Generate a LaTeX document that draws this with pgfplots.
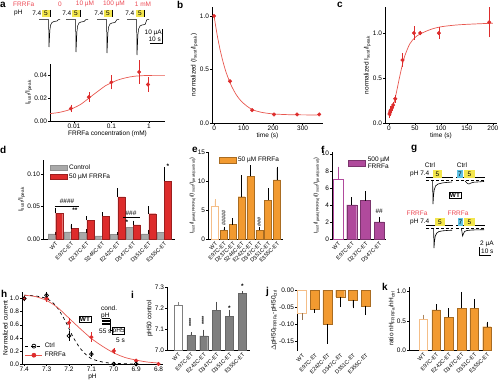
\documentclass[border=0pt]{standalone}
\usepackage{fontspec}
\setmainfont{Liberation Sans}
\usepackage{pgfplots}
\pgfplotsset{compat=1.18}
\definecolor{cred}{HTML}{DD2C2C}
\definecolor{lred}{HTML}{E8574F}
\definecolor{tred}{HTML}{EC4A55}
\definecolor{cgray}{HTML}{A9A9A9}
\definecolor{corange}{HTML}{F29A30}
\definecolor{lorange}{HTML}{F4BE88}
\definecolor{cpurple}{HTML}{B04A9C}
\definecolor{cdgray}{HTML}{7F7F7F}
\definecolor{cyel}{HTML}{F3E64C}
\definecolor{cblue}{HTML}{5EC3E6}
\newcommand{\fs}{\fontsize{6.5}{7}\selectfont}
\newcommand{\fss}{\fontsize{5.5}{6}\selectfont}
\newcommand{\fsl}{\fontsize{10}{11}\selectfont\bfseries}
\pgfplotsset{
 base/.style={scale only axis, axis lines*=left, tick align=outside,
  major tick length=1.8pt, minor tick length=1pt,
  every tick/.append style={black, line width=0.4pt},
  axis line style={line width=0.5pt, black},
  scaled x ticks=false, scaled y ticks=false,
  font=\fs, /pgf/number format/assume math mode=true,
  xticklabel style={inner sep=1pt, font=\fs}, yticklabel style={inner sep=1pt, font=\fs},
  label style={font=\fs, inner sep=1pt}, clip=false, anchor=south west},
 cat/.style={xtick style={draw=none}, xticklabel style={rotate=45, anchor=north east, inner sep=0.5pt, font=\fss}},
 errp/.style={error bars/y dir=plus, error bars/y explicit, error bars/error bar style={line width=0.6pt, #1}, error bars/error mark options={line width=0.6pt, mark size=1.6pt, #1}},
 errp/.default=black,
 errm/.style={error bars/y dir=minus, error bars/y explicit, error bars/error bar style={line width=0.6pt, #1}, error bars/error mark options={line width=0.6pt, mark size=1.6pt, #1}},
 errm/.default=black,
 errb/.style={error bars/y dir=both, error bars/y explicit, error bars/error bar style={line width=0.5pt, #1}, error bars/error mark options={line width=0.5pt, mark size=1.5pt, #1}},
 errb/.default=cred,
 leg/.style={legend style={draw=none, fill=none, font=\fs, inner sep=0pt, row sep=-1pt, cells={anchor=west, align=left}}, legend cell align=left},
}
\begin{document}
\begin{tikzpicture}
\useasboundingbox (0pt,0pt) rectangle (500pt,-385pt);

% ---------- canvas axis for the illustrative traces ----------
\begin{axis}[at={(0pt,0pt)}, anchor=north west, scale only axis, width=500pt, height=385pt,
  xmin=0, xmax=500, ymin=0, ymax=385, y dir=reverse, hide axis, clip=false]
% panel a traces
\addplot[black, line width=0.5pt] coordinates {(39,19.5)(48.6,19.5)(49,47)(49.4,40)(49.9,30)(50.6,25)(52,22.5)(54,21.5)(57,21)(58.5,19.5)(60,19.5)};
\addplot[black, line width=0.5pt] coordinates {(66,19.5)(75.6,19.5)(76,52)(76.4,44)(76.9,32)(77.6,26)(79,23)(81,22)(84,21.5)(86,19.5)(88,19.5)};
\addplot[black, line width=0.5pt] coordinates {(97,19.5)(106.6,19.5)(107,53)(107.4,45)(107.9,33)(108.6,27)(110,24)(112,23)(115,22.5)(117,19.5)(119,19.5)};
\addplot[black, line width=0.5pt] coordinates {(127,19.5)(136.6,19.5)(137,55)(137.4,47)(137.9,35)(138.6,29)(140,26)(142,25)(145,24.5)(147,19.5)(149,19.5)};
% panel a scale bar
\addplot[black, line width=0.6pt] coordinates {(162,29)(162,43)(150,43)};
% panel g protocol lines
\addplot[black, line width=0.5pt] coordinates {(426,177.5)(453,177.5)};
\addplot[black, line width=0.5pt] coordinates {(456,177.5)(485,177.5)};
\addplot[black, line width=0.5pt] coordinates {(426,225.5)(453,225.5)};
\addplot[black, line width=0.5pt] coordinates {(456,225.5)(485,225.5)};
\addplot[black, line width=0.4pt, densely dashed] coordinates {(426,180)(453,180)};
\addplot[black, line width=0.4pt, densely dashed] coordinates {(456,180)(485,180)};
\addplot[black, line width=0.4pt, densely dashed] coordinates {(426,228)(453,228)};
\addplot[black, line width=0.4pt, densely dashed] coordinates {(456,228)(485,228)};
% panel g traces
\addplot[black, line width=0.6pt] coordinates {(432.6,181)(433,204)(433.5,196)(434.2,190)(435.5,186)(438,184)(442,183)(446,182.5)(452,182)};
\addplot[black, line width=0.6pt] coordinates {(465,181)(467.5,183.5)(469,184)(471,183)(474,182.2)(480,181.8)(484,181.5)};
\addplot[black, line width=0.6pt] coordinates {(433.6,229)(434,248)(434.5,241)(435.3,236)(436.8,233)(439,231.5)(443,230.8)(448,230.4)(452,230.2)};
\addplot[black, line width=0.6pt] coordinates {(461.5,229)(462.6,236)(463.4,234)(464.5,231.5)(467,230.5)(472,230)(480,229.8)(484,229.7)};
% panel g scale bar
\addplot[black, line width=0.6pt] coordinates {(479,247)(479,255.5)(491,255.5)};
\end{axis}

% ---------- decorations ----------
\begin{scope}[x=1pt, y=-1pt, font=\fs]
\node[anchor=west, inner sep=0pt] at (0,5) {\fsl a};
\node[anchor=west, inner sep=0pt] at (177,5) {\fsl b};
\node[anchor=west, inner sep=0pt] at (337,5) {\fsl c};
\node[anchor=west, inner sep=0pt] at (0,150) {\fsl d};
\node[anchor=west, inner sep=0pt] at (192,150) {\fsl e};
\node[anchor=west, inner sep=0pt] at (321,150) {\fsl f};
\node[anchor=west, inner sep=0pt] at (411,149) {\fsl g};
\node[anchor=west, inner sep=0pt] at (1,294) {\fsl h};
\node[anchor=west, inner sep=0pt] at (131,295) {\fsl i};
\node[anchor=west, inner sep=0pt] at (266,292) {\fsl j};
\node[anchor=west, inner sep=0pt] at (382,287) {\fsl k};
% panel a protocol
\node[tred, anchor=west, inner sep=0pt] at (13,4) {FRRFa};
\node[tred, inner sep=0pt] at (60,4) {0};
\node[tred, inner sep=0pt] at (85,4) {10 µM};
\node[tred, inner sep=0pt] at (114,4) {100 µM};
\node[tred, inner sep=0pt] at (143,4) {1 mM};
\node[anchor=west, inner sep=0pt] at (14,13) {pH};
\foreach \xb in {50, 80, 112, 144}{
  \fill[cyel] (\xb-8,10) rectangle (\xb,17.5);
  \node[inner sep=0pt] at (\xb-4,13.5) {5};
  \draw[line width=0.5pt] (\xb,10) -- (\xb,17.5);
}
\node[anchor=east, inner sep=0pt] at (41.5,13.5) {7.4};
\node[anchor=east, inner sep=0pt] at (71.5,13.5) {7.4};
\node[anchor=east, inner sep=0pt] at (103.5,13.5) {7.4};
\node[anchor=east, inner sep=0pt] at (134.5,13.5) {7.4};
\node[anchor=east, inner sep=0pt] at (162,33) {10 µA};
\node[anchor=east, inner sep=0pt] at (161,39.5) {10 s};
% panel g
\node[inner sep=0pt] at (430,165) {Ctrl};
\node[inner sep=0pt] at (462,165) {Ctrl};
\node[anchor=west, inner sep=0pt] at (410,173.5) {pH 7.4};
\fill[cyel] (433,170) rectangle (442,177.5); \node[inner sep=0pt] at (437.5,173.8) {5};
\fill[cblue] (457,170) rectangle (463,177.5); \node[inner sep=0pt] at (460,173.8) {7};
\fill[cyel] (464,170) rectangle (475,177.5); \node[inner sep=0pt] at (469.5,173.8) {5};
\node[draw, line width=0.5pt, inner sep=0.8pt] at (455,195) {\bfseries WT};
\node[tred, inner sep=0pt] at (417,213) {FRRFa};
\node[tred, inner sep=0pt] at (458,213) {FRRFa};
\node[anchor=west, inner sep=0pt] at (410,221.5) {pH 7.4};
\fill[cyel] (435,218) rectangle (445,225.5); \node[inner sep=0pt] at (440,221.8) {5};
\fill[cblue] (458,218) rectangle (463,225.5); \node[inner sep=0pt] at (460.5,221.8) {7};
\fill[cyel] (464,218) rectangle (475,225.5); \node[inner sep=0pt] at (469.5,221.8) {5};
\node[anchor=west, inner sep=0pt] at (480,244) {2 µA};
\node[anchor=west, inner sep=0pt] at (481,251.5) {10 s};
% panel h inset
\node[draw, line width=0.5pt, inner sep=0.8pt] at (85,319) {\bfseries WT};
\node[anchor=west, inner sep=0pt] at (101,308) {cond.};
\node[anchor=west, inner sep=0pt] at (101,316) {pH};
\foreach \yy in {318.5,320,321.5,323,324.5}{\draw[line width=0.4pt] (102,\yy) -- (110,\yy);}
\draw[line width=0.4pt] (110,318.5) -- (110,330.5) -- (112,330.5);
\node[anchor=west, inner sep=0pt] at (99,331) {55 s};
\draw[line width=0.4pt] (112,327) rectangle (124,334);
\node[anchor=west, inner sep=0pt] at (112.5,331) {pH5};
\node[anchor=west, inner sep=0pt] at (116,340) {5 s};
\end{scope}

% ---------- panel a ----------
\begin{axis}[base, at={(50pt,-121pt)}, width=115pt, height=57pt,
  xmode=log, xmin=0.0023, xmax=2.7, ymin=0, ymax=0.05,
  xtick={0.01,0.1,1}, xticklabels={0.01,0.1,1},
  ytick={0,0.02,0.04}, yticklabels={0.00,0.02,0.04},
  xlabel={FRRFa concentration (mM)}, ylabel={I\textsubscript{sust}/I\textsubscript{peak}}]
\addplot[lred, line width=0.7pt, smooth] coordinates {(0.0023,0.0065)(0.004,0.0075)(0.007,0.0095)(0.01,0.0115)(0.015,0.0145)(0.02,0.0175)(0.03,0.022)(0.05,0.0275)(0.07,0.031)(0.1,0.0335)(0.15,0.036)(0.25,0.038)(0.4,0.0392)(0.7,0.0398)(1.2,0.04)(2.7,0.04)};
\addplot[only marks, mark=*, mark size=1.8pt, color=cred, errb] coordinates {
 (0.0083,0.011) +- (0,0.002)
 (0.025,0.021) +- (0,0.003)
 (0.1,0.034) +- (0,0.005)
 (0.55,0.043) +- (0,0.009)
 (0.95,0.032) +- (0,0.005)};
\end{axis}

% ---------- panel b ----------
\begin{axis}[base, at={(212pt,-123pt)}, width=111pt, height=116pt,
  xmin=-7, xmax=369, ymin=0, ymax=1.084,
  xtick={0,100,200,300}, ytick={0,0.5,1}, yticklabels={0.0,0.5,1.0},
  xlabel={time (s)}, ylabel={normalized (I\textsubscript{sust}/I\textsubscript{peak})}]
\addplot[lred, line width=0.7pt, smooth] coordinates {(0,1)(10,0.83)(20,0.69)(30,0.575)(40,0.48)(50,0.405)(60,0.34)(75,0.265)(90,0.21)(110,0.16)(130,0.125)(160,0.1)(200,0.085)(250,0.078)(300,0.076)(350,0.075)};
\addplot[only marks, mark=*, mark size=1.8pt, color=cred] coordinates {(0,1.0)(54,0.39)(129,0.12)(203,0.08)(281,0.08)(356,0.08)};
\end{axis}

% ---------- panel c ----------
\begin{axis}[base, at={(385pt,-123pt)}, width=112pt, height=116pt,
  xmin=-7.7, xmax=208, ymin=0, ymax=1.29,
  xtick={0,50,100,150,200}, ytick={0,0.5,1}, yticklabels={0.0,0.5,1.0},
  xlabel={time (s)}, ylabel={normalized I\textsubscript{sust}/I\textsubscript{peak}}]
\addplot[lred, line width=0.7pt, smooth] coordinates {(0,0.08)(5,0.14)(10,0.23)(15,0.36)(20,0.5)(25,0.63)(30,0.74)(40,0.88)(50,0.95)(60,0.99)(80,1.04)(100,1.07)(130,1.09)(160,1.1)(200,1.11)};
\addplot[only marks, mark=*, mark size=1.8pt, color=cred, errb] coordinates {
 (1,0.10) +- (0,0.03) (2,0.12) +- (0,0.03) (3,0.14) +- (0,0.03) (4,0.15) +- (0,0.02)
 (6,0.17) +- (0,0.02) (8,0.20) +- (0,0.02) (12,0.27) +- (0,0.03)
 (26,0.70) +- (0,0.06) (48,1.0) +- (0,0.06) (60,1.0) +- (0,0.01)
 (96,1.0) +- (0,0.05) (193,1.12) +- (0,0.15)};
\end{axis}

% ---------- panel d ----------
\begin{axis}[base, cat, leg, area legend, at={(43pt,-239pt)}, width=132pt, height=79pt,
  xmin=-0.8, xmax=7.7, ymin=0, ymax=0.122,
  ytick={0,0.05,0.1}, yticklabels={0.00,0.05,0.10},
  xtick={0,...,7}, xticklabels={WT,E97C-ET,D237C-ET,S246C-ET,E242C-ET,D347C-ET,D351C-ET,E355C-ET},
  ylabel={I\textsubscript{sust}/I\textsubscript{peak}},
  legend style={at={(0.05,0.97)}, anchor=north west}]
\addplot[ybar, bar width=7pt, bar shift=-3.8pt, fill=cgray, draw=cgray!85!black, line width=0.3pt, errp] coordinates {
 (0,0.008) +- (0,0.001) (1,0.011) +- (0,0.001) (2,0.010) +- (0,0.0025) (3,0.005) +- (0,0.001)
 (4,0.007) +- (0,0.001) (5,0.018) +- (0,0.002) (6,0.008) +- (0,0.004) (7,0.010) +- (0,0.001)};
\addlegendentry{Control}
\addplot[ybar, bar width=7pt, bar shift=3.8pt, fill=cred, draw=cred!70!black, line width=0.3pt, errp] coordinates {
 (0,0.040) +- (0,0.005) (1,0.016) +- (0,0.005) (2,0.029) +- (0,0.004) (3,0.035) +- (0,0.004)
 (4,0.065) +- (0,0.011) (5,0.022) +- (0,0.004) (6,0.039) +- (0,0.009) (7,0.0895) +- (0,0.0185)};
\addlegendentry{50 µM FRRFa}
\draw[line width=0.5pt] (axis cs:-0.05,0.051) -- (axis cs:1.55,0.051);
\node[inner sep=0pt, font=\fs] at (axis cs:0.75,0.058) {\#\#\#\#};
\node[inner sep=0pt, font=\fs\bfseries] at (axis cs:1.25,0.044) {**};
\draw[line width=0.5pt] (axis cs:4.35,0.033) -- (axis cs:5.45,0.033);
\node[inner sep=0pt, font=\fs] at (axis cs:4.87,0.040) {\#\#\#};
\node[inner sep=0pt, font=\fs\bfseries] at (axis cs:4.6,0.026) {*};
\node[inner sep=0pt, font=\fs\bfseries] at (axis cs:7.25,0.113) {*};
\end{axis}

% ---------- panel e ----------
\begin{axis}[base, cat, leg, area legend, at={(208pt,-239pt)}, width=75pt, height=87pt,
  xmin=-0.79, xmax=7.68, ymin=0, ymax=15, ytick={0,5,10,15},
  xtick={0,...,7}, xticklabels={WT,E97C-ET,D237C-ET,S246C-ET,E242C-ET,D347C-ET,D351C-ET,E355C-ET},
  ylabel={\fss I\textsubscript{sust}/I\textsubscript{peak(FRRFa)}/(I\textsubscript{sust}/I\textsubscript{peak(control)})},
  legend style={at={(0.14,0.97)}, anchor=north west}]
\addplot[ybar, bar width=7pt, bar shift=0pt, fill=white, draw=lorange, line width=0.7pt, forget plot, errp=lorange] coordinates {(0,5.7) +- (0,0.9)};
\addplot[ybar, bar width=7pt, bar shift=0pt, fill=corange, draw=corange!70!black, line width=0.3pt, errp] coordinates {
 (1,1.5) +- (0,0.3) (2,2.5) +- (0,0.8) (3,7.3) +- (0,3.4) (4,10.8) +- (0,1.6)
 (5,1.5) +- (0,0.3) (6,6.7) +- (0,1.8) (7,10.2) +- (0,2.0)};
\addlegendentry{50 µM FRRFa}
\node[rotate=90, inner sep=0pt, font=\fss] at (axis cs:1,3.6) {\#\#\#\#\#};
\node[rotate=90, inner sep=0pt, font=\fss] at (axis cs:5,2.9) {\#\#\#};
\end{axis}

% ---------- panel f ----------
\begin{axis}[base, cat, leg, area legend, at={(332pt,-239pt)}, width=54pt, height=87pt,
  xmin=-0.44, xmax=3.5, ymin=0, ymax=10.2, ytick={0,2,4,6,8,10},
  xtick={0,...,3}, xticklabels={WT,E97C-ET,D237C-ET,D347C-ET},
  ylabel={\fss I\textsubscript{sust}/I\textsubscript{peak(FRRFa)}/(I\textsubscript{sust}/I\textsubscript{peak(control)})},
  legend style={at={(0.3,0.97)}, anchor=north west}]
\addplot[ybar, bar width=10pt, bar shift=0pt, fill=white, draw=cpurple, line width=0.7pt, forget plot, errp=cpurple] coordinates {(0,7.0) +- (0,1.3)};
\addplot[ybar, bar width=10pt, bar shift=0pt, fill=cpurple, draw=cpurple!70!black, line width=0.3pt, errp] coordinates {
 (1,4.0) +- (0,0.7) (2,4.5) +- (0,0.9) (3,2.0) +- (0,0.4)};
\addlegendentry{500 µM\\FRRFa}
\node[inner sep=0pt, font=\fs] at (axis cs:3,3.2) {\#\#};
\end{axis}

% ---------- panel h ----------
\begin{axis}[base, leg, at={(22pt,-364pt)}, width=141pt, height=72pt,
  x dir=reverse, xmin=6.78, xmax=7.41, ymin=0, ymax=1.1,
  xtick={6.8,6.9,7.0,7.1,7.2,7.3,7.4}, xticklabels={6.8,6.9,7.0,7.1,7.2,7.3,7.4},
  ytick={0,0.2,0.4,0.6,0.8,1.0}, yticklabels={0.0,0.2,0.4,0.6,0.8,1.0},
  xlabel={pH}, ylabel={Normalized current},
  legend style={at={(0.02,0.05)}, anchor=south west}]
\addplot[black, line width=0.7pt, dashed, smooth, forget plot] coordinates {(7.4,1.05)(7.35,1.04)(7.3,1.0)(7.27,0.93)(7.25,0.85)(7.22,0.68)(7.2,0.54)(7.18,0.4)(7.15,0.24)(7.12,0.13)(7.1,0.08)(7.05,0.03)(7.0,0.01)(6.9,0.0)};
\addplot[lred, line width=0.7pt, smooth, forget plot] coordinates {(7.4,1.05)(7.35,1.03)(7.3,0.97)(7.25,0.86)(7.2,0.70)(7.15,0.54)(7.1,0.39)(7.05,0.27)(7.0,0.17)(6.95,0.1)(6.9,0.06)(6.85,0.03)(6.8,0.015)};
\addplot[only marks, mark=*, mark size=1.9pt, color=cred, forget plot, errb] coordinates {
 (7.4,1.0) +- (0,0.02) (7.3,1.0) +- (0,0.03) (7.2,0.63) +- (0,0.05) (7.1,0.41) +- (0,0.05)
 (7.0,0.2) +- (0,0.02) (6.9,0.05) +- (0,0.01) (6.8,0.0) +- (0,0.01)};
\addplot[only marks, mark=o, mark size=1.9pt, mark options={line width=0.7pt}, color=black, forget plot, errb=black] coordinates {
 (7.4,1.0) +- (0,0.02) (7.3,1.05) +- (0,0.03) (7.2,0.43) +- (0,0.05) (7.1,0.15) +- (0,0.02)
 (7.0,0.0) +- (0,0.01) (6.9,0.0) +- (0,0.01)};
\addlegendimage{black, dashed, line width=0.7pt, mark=o, mark options={solid}}
\addlegendentry{Ctrl}
\addlegendimage{lred, line width=0.7pt, mark=*, mark options={cred}}
\addlegendentry{FRRFa}
\end{axis}

% ---------- panel i ----------
\begin{axis}[base, cat, at={(167pt,-350pt)}, width=83pt, height=63pt,
  xmin=-0.86, xmax=5.6, ymin=7.0, ymax=7.3, ytick={7.0,7.1,7.2,7.3}, yticklabels={7.0,7.1,7.2,7.3},
  clip=true, clip mode=individual,
  xtick={0,...,5}, xticklabels={WT,E97C-ET,E242C-ET,D347C-ET,D351C-ET,E355C-ET},
  ylabel={pH50 control}]
\addplot[ybar, bar width=8pt, bar shift=0pt, fill=white, draw=cdgray, line width=0.6pt, errp=cdgray] coordinates {(0,7.214) +- (0,0.006)};
\addplot[ybar, bar width=8pt, bar shift=0pt, fill=cdgray, draw=cdgray!80!black, line width=0.3pt, errp=cdgray!60!black] coordinates {
 (1,7.07) +- (0,0.008) (2,7.067) +- (0,0.023) (3,7.19) +- (0,0.033) (4,7.16) +- (0,0.025) (5,7.27) +- (0,0.003)};
\node[rotate=90, inner sep=0pt, font=\fss\bfseries] at (axis cs:1,7.13) {****};
\node[rotate=90, inner sep=0pt, font=\fss\bfseries] at (axis cs:2,7.14) {****};
\node[inner sep=0pt, font=\fs\bfseries] at (axis cs:4,7.2) {*};
\node[inner sep=0pt, font=\fs\bfseries] at (axis cs:5,7.305) {*};
\end{axis}

% ---------- panel j ----------
\begin{axis}[base, cat, at={(297pt,-350.5pt)}, width=73pt, height=60.5pt,
  xmin=-0.4, xmax=5.35, ymin=-0.178, ymax=0,
  x axis line style={draw=none},
  ytick={-0.15,-0.10,-0.05,0}, yticklabels={-0.15,-0.10,-0.05,0.00},
  xtick={0,...,5}, xticklabels={WT,E97C-ET,E242C-ET,D347C-ET,D351C-ET,E355C-ET},
  ylabel={$\Delta$pH50\textsubscript{FRRFa}-pH50\textsubscript{ctrl}}]
\addplot[ybar, bar width=9pt, bar shift=0pt, fill=white, draw=lorange, line width=0.7pt, errm=lorange!60!black] coordinates {(0,-0.069) +- (0,0.014)};
\addplot[ybar, bar width=9pt, bar shift=0pt, fill=corange, draw=corange!70!black, line width=0.3pt, errm] coordinates {
 (1,-0.057) +- (0,0.005) (2,-0.101) +- (0,0.053) (3,-0.020) +- (0,0.026) (4,-0.029) +- (0,0.02) (5,-0.047) +- (0,0.022)};
\end{axis}

% ---------- panel k ----------
\begin{axis}[base, cat, at={(409pt,-350pt)}, width=83pt, height=63pt,
  xmin=-1.13, xmax=5.4, ymin=0, ymax=1.08, ytick={0,0.5,1}, yticklabels={0.0,0.5,1.0},
  xtick={0,...,5}, xticklabels={WT,E97C-ET,E242C-ET,D347C-ET,D351C-ET,E355C-ET},
  ylabel={ratio nH\textsubscript{FRRFa}/nH\textsubscript{ctrl}}]
\addplot[ybar, bar width=8.5pt, bar shift=0pt, fill=white, draw=lorange, line width=0.7pt, errp=lorange!70!black] coordinates {(0,0.53) +- (0,0.05)};
\addplot[ybar, bar width=8.5pt, bar shift=0pt, fill=corange, draw=corange!70!black, line width=0.3pt, errp] coordinates {
 (1,0.69) +- (0,0.07) (2,0.56) +- (0,0.13) (3,0.72) +- (0,0.25) (4,0.72) +- (0,0.13) (5,0.40) +- (0,0.06)};
\end{axis}
\end{tikzpicture}
\end{document}
